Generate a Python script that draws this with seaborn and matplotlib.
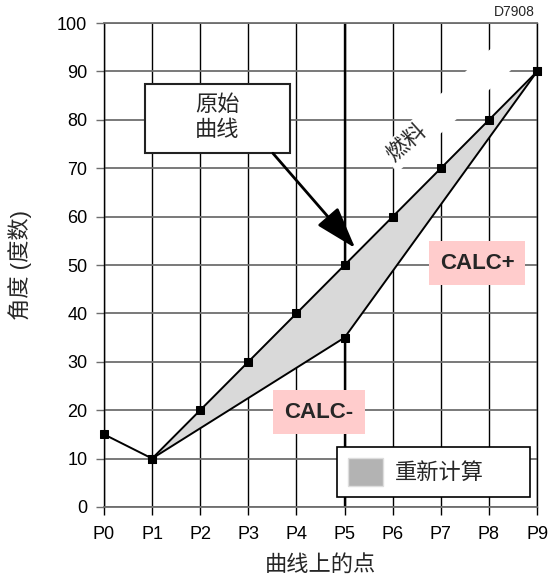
import numpy as np
import matplotlib
matplotlib.use("Agg")
import matplotlib.pyplot as plt
from matplotlib.patches import Patch, Rectangle
import seaborn as sns

# chart data
points = ["P0", "P1", "P2", "P3", "P4", "P5", "P6", "P7", "P8", "P9"]
original = [15, 10, 20, 30, 40, 50, 60, 70, 80, 90]
calc_points = ["P1", "P5", "P9"]
calc_minus = [10, 35, 90]
y_ticks = [0, 10, 20, 30, 40, 50, 60, 70, 80, 90, 100]

x_pos = np.arange(len(points))
calc_pos = [points.index(p) for p in calc_points]

sns.set_theme(style="white")
plt.rcParams['font.family'] = ['Liberation Sans', 'Noto Sans CJK SC', 'DejaVu Sans']

fig, ax = plt.subplots(figsize=(5.56, 5.78), dpi=100)
fig.subplots_adjust(left=0.187, right=0.966, bottom=0.123, top=0.960)

# shaded recalculation band between original curve and CALC- curve (P1..P9)
band_x = np.concatenate([x_pos[1:], calc_pos[::-1]])
band_y = np.concatenate([original[1:], calc_minus[::-1]])
ax.fill(band_x, band_y, color='#d9d9d9', zorder=2, lw=0)

# curves
sns.lineplot(x=x_pos, y=original, ax=ax, color='black', lw=1.4, marker='s',
             markersize=6, markeredgecolor='black', zorder=4, clip_on=False)
sns.lineplot(x=calc_pos, y=calc_minus, ax=ax, color='black', lw=1.4, marker='s',
             markersize=6, markeredgecolor='black', zorder=4, clip_on=False)

ax.set_xlim(x_pos[0], x_pos[-1])
ax.set_ylim(y_ticks[0], y_ticks[-1])
ax.set_xticks(x_pos)
ax.set_xticklabels(points)
ax.set_yticks(y_ticks)

# grid
ax.set_axisbelow(True)
ax.grid(axis='x', color='black', lw=1)
ax.grid(axis='y', color='#6e6e6e', lw=1.3)
ax.axvline(x_pos[5], color='black', lw=1.7, zorder=1)
for side in ['left', 'right']:
    ax.spines[side].set_color('black')
    ax.spines[side].set_linewidth(1)
for side in ['top', 'bottom']:
    ax.spines[side].set_color('#6e6e6e')
    ax.spines[side].set_linewidth(1.3)

ax.tick_params(axis='both', labelsize=13, direction='out', length=6, width=1,
               bottom=True, left=True, colors='black')
ax.tick_params(axis='y', color='#6e6e6e', pad=6)
ax.tick_params(axis='x', pad=8)

ax.set_xlabel("曲线上的点", fontsize=16)
ax.set_ylabel("角度 (度数)", fontsize=16)
ax.xaxis.set_label_coords(0.5, -0.12)
ax.xaxis.label.set_va('center')
ax.yaxis.set_label_coords(-0.194, 0.5)
ax.yaxis.label.set_va('center')

# fuel label with white band
ax.text(5.96, 72.0, "燃料" + "\u3000" * 5, rotation=42, rotation_mode='anchor',
        ha='left', va='center', fontsize=16, zorder=1.5,
        bbox=dict(facecolor='white', edgecolor='none', pad=3))

# original curve box + arrow
ax.add_patch(Rectangle((0.0947, 0.731), 0.335, 0.143, transform=ax.transAxes,
                       facecolor='white', edgecolor='#222222', lw=1.5, zorder=5))
ax.text(0.261, 0.804, "原始\n曲线", transform=ax.transAxes, ha='center', va='center',
        fontsize=16, linespacing=1.25, zorder=6)
ax.annotate('', xy=(5.22, 53.5), xytext=(3.51, 73.1),
            arrowprops=dict(arrowstyle='-|>,head_length=1.3,head_width=0.42',
                            color='black', lw=2, mutation_scale=20,
                            shrinkA=0, shrinkB=0), zorder=6)

# CALC labels
ax.text(7.75, 50.4, "CALC+", ha='center', va='center', fontsize=16, fontweight='bold',
        zorder=6, bbox=dict(facecolor='#ffcccc', edgecolor='none', pad=8))
ax.text(4.47, 19.6, "CALC-", ha='center', va='center', fontsize=16, fontweight='bold',
        zorder=6, bbox=dict(facecolor='#ffcccc', edgecolor='none', pad=8))

# legend
leg = ax.legend(handles=[Patch(facecolor='#b3b3b3', edgecolor='#dddddd', label="重新计算")],
                loc='lower left', bbox_to_anchor=(0.538, 0.0207, 0.446, 0.118),
                mode='expand', fontsize=16, handlelength=1.55, handleheight=1.55,
                handletextpad=0.55, borderpad=0.5, borderaxespad=0,
                fancybox=False, framealpha=1, edgecolor='black')
leg.get_frame().set_linewidth(1.2)
leg.set_zorder(7)

fig.text(535 / 556, 1 - 12 / 578, "D7908", ha='right', va='center', fontsize=10)

fig.savefig("out.png", dpi=100)
